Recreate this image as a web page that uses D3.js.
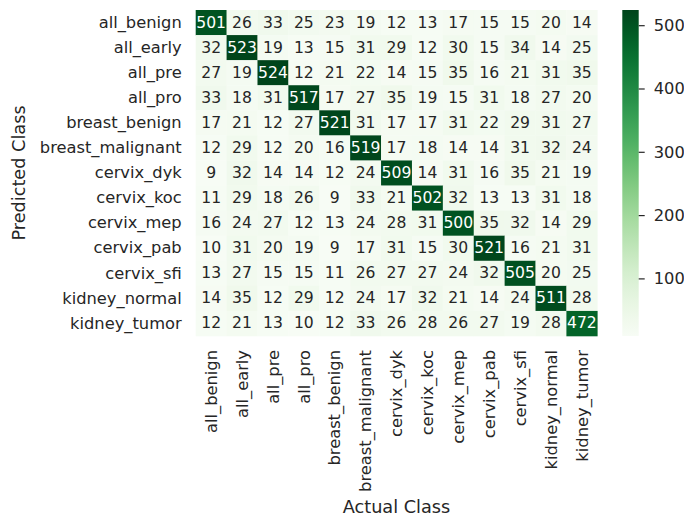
<!DOCTYPE html>
<html>
<head>
<meta charset="utf-8">
<script src="https://cdn.jsdelivr.net/npm/d3@7"></script>
<style>
  html, body { margin: 0; padding: 0; background: #fff; }
  svg { display: block; font-family: "DejaVu Sans", sans-serif; }
</style>
</head>
<body>
<svg id="chart" width="684" height="517"></svg>
<script>
// Class names, shared by both axes
const classes = ["all_benign", "all_early", "all_pre", "all_pro", "breast_benign",
  "breast_malignant", "cervix_dyk", "cervix_koc", "cervix_mep", "cervix_pab",
  "cervix_sfi", "kidney_normal", "kidney_tumor"];

// Confusion counts: one row per predicted class, columns are actual classes
const rowAllBenign      = [501, 26, 33, 25, 23, 19, 12, 13, 17, 15, 15, 20, 14];
const rowAllEarly       = [32, 523, 19, 13, 15, 31, 29, 12, 30, 15, 34, 14, 25];
const rowAllPre         = [27, 19, 524, 12, 21, 22, 14, 15, 35, 16, 21, 31, 35];
const rowAllPro         = [33, 18, 31, 517, 17, 27, 35, 19, 15, 31, 18, 27, 20];
const rowBreastBenign   = [17, 21, 12, 27, 521, 31, 17, 17, 31, 22, 29, 31, 27];
const rowBreastMalig    = [12, 29, 12, 20, 16, 519, 17, 18, 14, 14, 31, 32, 24];
const rowCervixDyk      = [9, 32, 14, 14, 12, 24, 509, 14, 31, 16, 35, 21, 19];
const rowCervixKoc      = [11, 29, 18, 26, 9, 33, 21, 502, 32, 13, 13, 31, 18];
const rowCervixMep      = [16, 24, 27, 12, 13, 24, 28, 31, 500, 35, 32, 14, 29];
const rowCervixPab      = [10, 31, 20, 19, 9, 17, 31, 15, 30, 521, 16, 21, 31];
const rowCervixSfi      = [13, 27, 15, 15, 11, 26, 27, 27, 24, 32, 505, 20, 25];
const rowKidneyNormal   = [14, 35, 12, 29, 12, 24, 17, 32, 21, 14, 24, 511, 28];
const rowKidneyTumor    = [12, 21, 13, 10, 12, 33, 26, 28, 26, 27, 19, 28, 472];
const counts = [rowAllBenign, rowAllEarly, rowAllPre, rowAllPro, rowBreastBenign,
  rowBreastMalig, rowCervixDyk, rowCervixKoc, rowCervixMep, rowCervixPab,
  rowCervixSfi, rowKidneyNormal, rowKidneyTumor];

const colorbarTicks = [100, 200, 300, 400, 500];
const xTitle = "Actual Class";
const yTitle = "Predicted Class";

// Layout
const plot = { left: 195.7, top: 10, right: 597.3, bottom: 336 };
const bar = { left: 622.3, width: 16.4 };
const textColor = "#262626";
const tickFont = 16.3, titleFont = 17.7, annotFont = 15.6;

const svg = d3.select("#chart");

const cells = [];
counts.forEach((row, i) => row.forEach((v, j) => cells.push({ pred: classes[i], actual: classes[j], value: v })));

const allValues = cells.map(d => d.value);
const vmin = d3.min(allValues), vmax = d3.max(allValues);

const x = d3.scaleBand().domain(classes).range([plot.left, plot.right]).padding(0);
const y = d3.scaleBand().domain(classes).range([plot.top, plot.bottom]).padding(0);
const color = d3.scaleSequential(d3.interpolateGreens).domain([vmin, vmax]);

// Heatmap cells
svg.append("g").selectAll("rect").data(cells).join("rect")
  .attr("x", d => x(d.actual))
  .attr("y", d => y(d.pred))
  .attr("width", x.bandwidth() + 0.3)
  .attr("height", y.bandwidth() + 0.3)
  .attr("fill", d => color(d.value));

// Value annotations: light text on dark cells
function luminance(c) {
  const rgb = d3.rgb(c);
  const ch = [rgb.r, rgb.g, rgb.b].map(v => {
    v /= 255;
    return v <= 0.03928 ? v / 12.92 : Math.pow((v + 0.055) / 1.055, 2.4);
  });
  return 0.2126 * ch[0] + 0.7152 * ch[1] + 0.0722 * ch[2];
}
svg.append("g").selectAll("text").data(cells).join("text")
  .attr("x", d => x(d.actual) + x.bandwidth() / 2)
  .attr("y", d => y(d.pred) + y.bandwidth() / 2)
  .attr("text-anchor", "middle")
  .attr("dominant-baseline", "central")
  .attr("font-size", annotFont)
  .attr("fill", d => luminance(color(d.value)) > 0.408 ? textColor : "#ffffff")
  .text(d => d.value);

// Axes (no tick marks, labels only)
const xAxis = svg.append("g")
  .attr("transform", `translate(0,${plot.bottom})`)
  .call(d3.axisBottom(x).tickSize(0).tickPadding(0));
xAxis.select(".domain").remove();
xAxis.selectAll("text")
  .attr("font-size", tickFont)
  .attr("font-family", "DejaVu Sans")
  .attr("fill", textColor)
  .attr("transform", "rotate(-90)")
  .attr("text-anchor", "end")
  .attr("x", -14)
  .attr("y", 0)
  .attr("dy", "0.35em");

const yAxis = svg.append("g")
  .attr("transform", `translate(${plot.left},0)`)
  .call(d3.axisLeft(y).tickSize(0).tickPadding(14));
yAxis.select(".domain").remove();
yAxis.selectAll("text")
  .attr("font-size", tickFont)
  .attr("font-family", "DejaVu Sans")
  .attr("fill", textColor);

// Axis titles
svg.append("text")
  .attr("x", (plot.left + plot.right) / 2)
  .attr("y", 513)
  .attr("text-anchor", "middle")
  .attr("font-size", titleFont)
  .attr("fill", textColor)
  .text(xTitle);

svg.append("text")
  .attr("transform", `translate(25,${(plot.top + plot.bottom) / 2}) rotate(-90)`)
  .attr("text-anchor", "middle")
  .attr("font-size", titleFont)
  .attr("fill", textColor)
  .text(yTitle);

// Colorbar
const cScale = d3.scaleLinear().domain([vmin, vmax]).range([plot.bottom, plot.top]);
const defs = svg.append("defs");
const grad = defs.append("linearGradient").attr("id", "cbar")
  .attr("x1", 0).attr("y1", 1).attr("x2", 0).attr("y2", 0);
d3.range(0, 1.0001, 0.05).forEach(t => {
  grad.append("stop").attr("offset", t).attr("stop-color", d3.interpolateGreens(t));
});
svg.append("rect")
  .attr("x", bar.left)
  .attr("y", plot.top)
  .attr("width", bar.width)
  .attr("height", plot.bottom - plot.top)
  .attr("fill", "url(#cbar)");

const cAxis = svg.append("g")
  .attr("transform", `translate(${bar.left + bar.width},0)`)
  .call(d3.axisRight(cScale).tickValues(colorbarTicks).tickSize(6).tickPadding(9));
cAxis.select(".domain").remove();
cAxis.selectAll("line").attr("stroke", textColor).attr("stroke-width", 1.2);
cAxis.selectAll("text")
  .attr("font-size", tickFont)
  .attr("font-family", "DejaVu Sans")
  .attr("fill", textColor);
</script>
</body>
</html>
